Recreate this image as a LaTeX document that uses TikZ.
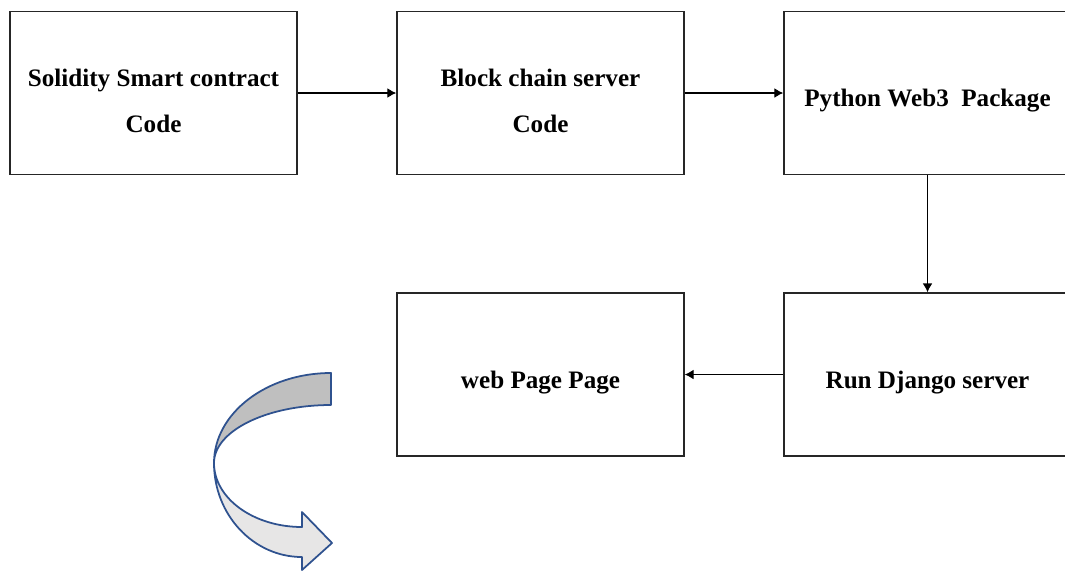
\documentclass[tikz,border=0pt]{standalone}
\usepackage{fontspec}
\setmainfont{Liberation Serif}
\usepackage{tikz}
\usetikzlibrary{positioning,arrows.meta}
\newcommand{\liftline}{\rule{0pt}{0.66cm}}
\tikzset{block node/.style={rectangle,draw=black!85,line width=0.9pt,minimum width=5.74cm,minimum height=3.26cm,inner sep=0pt,align=center,font=\bfseries\fontsize{14.3}{26}\selectfont},
flow/.style={draw,line width=0.6pt,-{Latex[length=5pt,width=5.5pt]}},
}
\definecolor{ribbonblue}{HTML}{2F528F}
\definecolor{ribbondark}{HTML}{BFBFBF}
\definecolor{ribbonlight}{HTML}{E7E6E6}

\begin{document}
\begin{tikzpicture}[x=0.02cm,y=-0.02cm]
\useasboundingbox (0,0) rectangle (1065,572);

\node[block node] (solidity) at (153.5,93) {\liftline Solidity Smart contract\\Code};
\node[block node] (chain) [right = 1.97cm of solidity] {\liftline Block chain server\\Code};
\node[block node] (web3) [right = 1.97cm of chain] {\liftline Python Web3~ Package};
\node[block node] (django) [below = 2.34cm of web3] {\liftline Run Django server};
\node[block node] (webpage) [left = 1.97cm of django] {\liftline web Page Page};

\path[flow]
(solidity) edge (chain)
(chain) edge (web3)
(web3) edge (django)
(django) edge (webpage)
;

% curved ribbon arrow
\coordinate (A) at (331,373);
\coordinate (B) at (331,405);
\coordinate (L) at (214,463);
\coordinate (C) at (302,527);
\coordinate (D) at (302,557);
\fill[ribbondark,draw=ribbonblue,line width=1pt,line join=round]
(A) .. controls (266.4,373) and (214,413.3) .. (L)
.. controls (214,431) and (266.4,405) .. (B) -- cycle;
\fill[ribbonlight,draw=ribbonblue,line width=1pt,line join=round]
(L) .. controls (214,498.3) and (253.4,527) .. (C)
-- (302,512) -- (332,543) -- (302,570) -- (D)
.. controls (253.4,557) and (214,514.9) .. (L) -- cycle;
\end{tikzpicture}
\end{document}
